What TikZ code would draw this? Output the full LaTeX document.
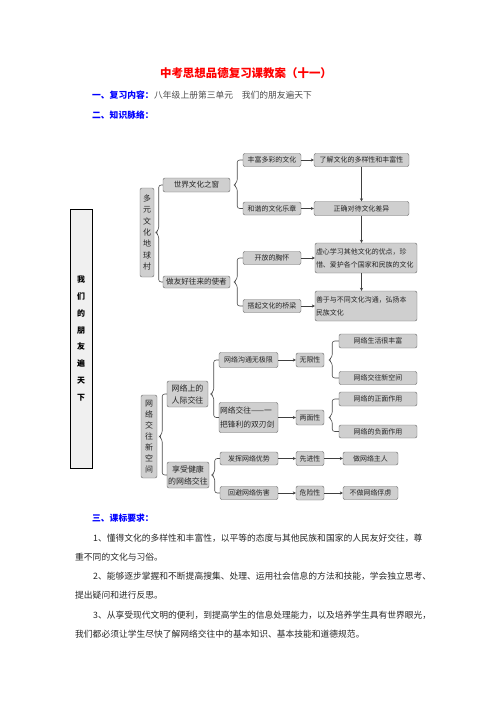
\documentclass[tikz,border=0pt]{standalone}
\usepackage{fontspec}
\setmainfont{Noto Sans CJK SC}
\usetikzlibrary{arrows.meta}
\usetikzlibrary{calc}

\tikzset{
  box/.style={draw=black!60, fill=black!19, rounded corners=2bp, inner sep=1bp, minimum height=13bp, font=\fontsize{7}{9}\selectfont, text=black!85},
  link/.style={-{Stealth[length=3bp,width=3.2bp]}, line width=0.8bp, black!75},
  brace/.style={rounded corners=2.5bp, line width=0.6bp, black!70},
  head/.style={anchor=west, inner sep=0pt, font=\fontsize{8.8}{10}\selectfont\bfseries, text=blue},
  body/.style={anchor=west, inner sep=0pt, font=\fontsize{8.8}{10}\selectfont, text=black!85},
}

\begin{document}
\begin{tikzpicture}[x=1bp, y=-1bp]
\useasboundingbox (0,0) rectangle (496,702);

% title and headings
\node[font=\fontsize{11.5}{13}\selectfont\bfseries, text=red] (title) at (246,73) {中考思想品德复习课教案（十一）};
\node[head] (h1) at (92,95) {一、复习内容：};
\node[body, text=black!70] (h1t) at (154,95) {八年级上册第三单元　我们的朋友遍天下};
\node[head] (h2) at (92,115) {二、知识脉络：};

% left unit box
\node[draw=black, fill=black!6, minimum width=22bp, minimum height=259bp, inner sep=0pt, align=center, font=\fontsize{8}{16.9}\selectfont\bfseries] (unit) at (81,338.5) {我\\们\\的\\朋\\友\\遍\\天\\下};

% upper part
\node[box, minimum width=14bp, minimum height=89bp, align=center, font=\fontsize{8}{11.5}\selectfont] (dy) at (147,232.5) {多\\元\\文\\化\\地\\球\\村};
\node[box, minimum width=67bp, minimum height=14bp, font=\fontsize{7.6}{9}\selectfont] (sj) at (196.5,185) {世界文化之窗};
\node[box, minimum width=67bp, minimum height=12bp, font=\fontsize{7.6}{9}\selectfont] (zy) at (196.5,282) {做友好往来的使者};

\node[box, minimum width=58bp] (fc) at (272,160) {丰富多彩的文化};
\node[box, minimum width=58bp] (hx) at (272,208.5) {和谐的文化乐章};
\node[box, minimum width=58bp] (kf) at (272,258) {开放的胸怀};
\node[box, minimum width=58bp] (dq) at (272,306) {搭起文化的桥梁};

\node[box, minimum width=95bp] (lj) at (361.5,160) {了解文化的多样性和丰富性};
\node[box, minimum width=95bp, minimum height=14bp] (zq) at (361.5,208.5) {正确对待文化差异};
\node[box, text width=100bp, minimum height=30bp, align=left, font=\fontsize{7}{13}\selectfont] (xx) at (366,258) {虚心学习其他文化的优点，珍\\惜、爱护各个国家和民族的文化};
\node[box, text width=100bp, minimum height=30bp, align=left, font=\fontsize{7}{13}\selectfont] (sy) at (366,306) {善于与不同文化沟通，弘扬本\\民族文化};

% arrows upper part
\draw[link] (fc) -- (lj);
\draw[link] (hx) -- (zq);
\draw[link] (kf) -- (kf -| xx.west);
\draw[link] (dq) -- (dq -| sy.west);
\draw[link] (lj) -- (zq);
\draw[link] (zq.south) -- (zq.south |- xx.north);
\draw[link] (zq.south |- xx.south) -- (zq.south |- sy.north);

% braces upper part
\draw[brace] (sj.west) -| ($(dy.east)+(4.5,-3)$) -- ($(dy.east)+(1.5,0)$) -- ($(dy.east)+(4.5,3)$) |- (zy.west);
\draw[brace] (fc.west) -| ($(sj.east)+(7,-3)$) -- ($(sj.east)+(3.5,0)$) -- ($(sj.east)+(7,3)$) |- (hx.west);
\draw[brace] (kf.west) -| ($(zy.east)+(7,-3)$) -- ($(zy.east)+(3.5,0)$) -- ($(zy.east)+(7,3)$) |- (dq.west);

% lower part
\node[box, minimum width=16bp, minimum height=83bp, align=center, font=\fontsize{8}{11}\selectfont] (wl) at (149,436.5) {网\\络\\交\\往\\新\\空\\间};
\node[box, minimum width=41bp, minimum height=26bp, align=center, font=\fontsize{8}{12}\selectfont] (rj) at (187.5,394) {网络上的\\人际交往};
\node[box, minimum width=42bp, minimum height=26bp, align=center, font=\fontsize{8}{12}\selectfont] (xs) at (188,475) {享受健康\\的网络交往};

\node[box, minimum width=59bp, minimum height=15bp] (gt) at (248.5,360) {网络沟通无极限};
\node[box, minimum width=28bp, minimum height=14bp] (wx) at (310,360) {无限性};
\node[box, minimum width=78bp, minimum height=14bp] (fh) at (378,341) {网络生活很丰富};
\node[box, minimum width=78bp] (xk) at (378,378) {网络交往新空间};

\node[box, minimum width=59bp, minimum height=30bp, text width=57bp, align=left, font=\fontsize{7.8}{14}\selectfont] (sr) at (248.5,417.5) {网络交往——一\\把锋利的双刃剑};
\node[box, minimum width=28bp, minimum height=15bp] (lm) at (310,417.5) {两面性};
\node[box, minimum width=78bp, minimum height=14bp] (zm) at (378,399) {网络的正面作用};
\node[box, minimum width=78bp] (fm) at (378,431.5) {网络的负面作用};

\node[box, minimum width=58bp] (fy) at (249,458.5) {发挥网络优势};
\node[box, minimum width=28bp, minimum height=14bp] (xj) at (310,458.5) {先进性};
\node[box, minimum width=55bp] (zr) at (370.5,458.5) {做网络主人};
\node[box, minimum width=58bp] (hb) at (249,493) {回避网络伤害};
\node[box, minimum width=28bp, minimum height=14bp] (wxx) at (310,493) {危险性};
\node[box, minimum width=55bp] (fl) at (370.5,493) {不做网络俘虏};

% arrows lower part
\draw[link] (gt) -- (wx);
\draw[link] (sr) -- (lm);
\draw[link] (fy) -- (xj);
\draw[link] (xj) -- (zr);
\draw[link] (hb) -- (wxx);
\draw[link] (wxx) -- (fl);

% braces lower part
\draw[brace] (rj.west) -| ($(wl.east)+(5,-3)$) -- ($(wl.east)+(2,0)$) -- ($(wl.east)+(5,3)$) |- (xs.west);
\draw[brace] (gt.west) -| ($(rj.east)+(5.5,-3)$) -- ($(rj.east)+(2.5,0)$) -- ($(rj.east)+(5.5,3)$) |- (sr.west);
\draw[brace] (fy.west) -| ($(xs.east)+(5.5,-3)$) -- ($(xs.east)+(2.5,0)$) -- ($(xs.east)+(5.5,3)$) |- (hb.west);
\draw[brace] (fh.west) -| ($(wx.east)+(8,-3)$) -- ($(wx.east)+(4.5,0)$) -- ($(wx.east)+(8,3)$) |- (xk.west);
\draw[brace] (zm.west) -| ($(lm.east)+(8,-3)$) -- ($(lm.east)+(4.5,0)$) -- ($(lm.east)+(8,3)$) |- (fm.west);

% requirements
\node[head] (h3) at (92,518) {三、课标要求：};
\node[body] (r1) at (93,538) {1、懂得文化的多样性和丰富性，以平等的态度与其他民族和国家的人民友好交往，尊};
\node[body] (r1b) at (75,557) {重不同的文化与习俗。};
\node[body] (r2) at (93,576) {2、能够逐步掌握和不断提高搜集、处理、运用社会信息的方法和技能，学会独立思考、};
\node[body] (r2b) at (75,595) {提出疑问和进行反思。};
\node[body] (r3) at (93,615) {3、从享受现代文明的便利，到提高学生的信息处理能力，以及培养学生具有世界眼光，};
\node[body] (r3b) at (75,634) {我们都必须让学生尽快了解网络交往中的基本知识、基本技能和道德规范。};

\end{tikzpicture}
\end{document}
